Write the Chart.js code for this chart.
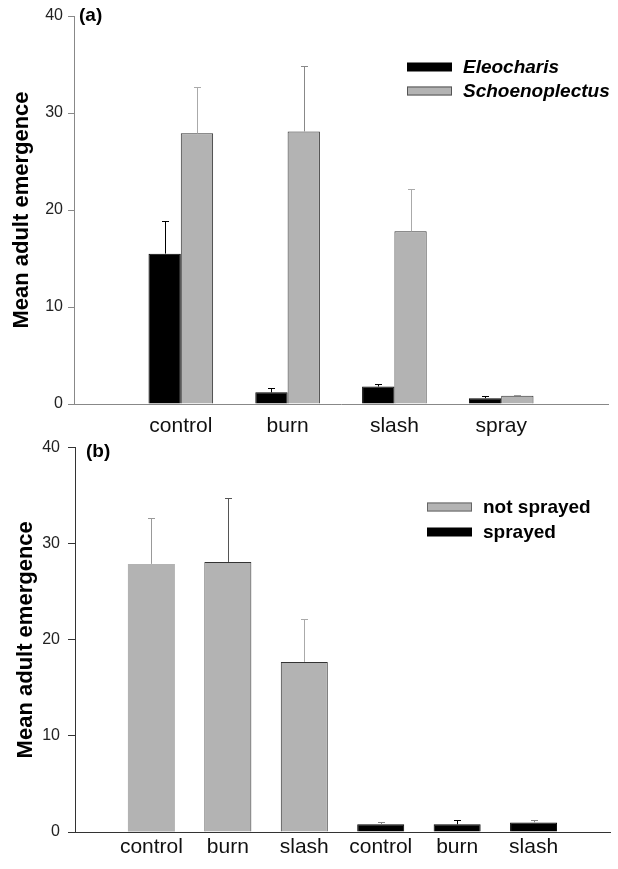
<!DOCTYPE html>
<html>
<head>
<meta charset="utf-8">
<script src="https://cdn.jsdelivr.net/npm/chart.js@4/dist/chart.umd.min.js"></script>
<style>
  body { margin: 0; background: #fff; }
  #wrap { position: relative; width: 618px; height: 869px; }
  canvas { position: absolute; left: 0; }
  #chartA { top: 0; }
  #chartB { top: 430px; }
</style>
</head>
<body>
<div id="wrap">
  <canvas id="chartA" width="618" height="440"></canvas>
  <canvas id="chartB" width="618" height="439"></canvas>
</div>
<script>
// panel (a): emergence by host plant
const treatmentsA = ['control', 'burn', 'slash', 'spray'];
const eleocharisMean = [15.5, 1.2, 1.8, 0.6];
const eleocharisSE = [3.4, 0.4, 0.3, 0.2];
const schoenoMean = [27.9, 28.1, 17.8, 0.85];
const schoenoSE = [4.8, 6.7, 4.4, 0.1];

// panel (b): sprayed vs not sprayed
const treatmentsB = ['control', 'burn', 'slash', 'control', 'burn', 'slash'];
const notSprayedMean = [27.9, 28.1, 17.7, null, null, null];
const notSprayedSE = [4.8, 6.7, 4.5, null, null, null];
const sprayedMean = [null, null, null, 0.8, 0.8, 1.0];
const sprayedSE = [null, null, null, 0.2, 0.4, 0.25];

const yTicks = [0, 10, 20, 30, 40];

Chart.defaults.font.family = "'Liberation Sans', Arial, sans-serif";
Chart.defaults.color = '#111';

// empty slot at each end so the groups sit where they do in the figure
const pad = arr => [null, ...arr, null];
const padLabels = arr => ['', ...arr, ''];

const errorBars = {
    id: 'errorBars',
    afterDatasetsDraw(chart) {
        const ctx = chart.ctx;
        const y = chart.scales.y;
        chart.data.datasets.forEach((ds, di) => {
            if (!ds.errors) return;
            const meta = chart.getDatasetMeta(di);
            meta.data.forEach((bar, i) => {
                const v = ds.data[i];
                const e = ds.errors[i];
                if (v == null || e == null) return;
                const top = Math.round(y.getPixelForValue(v + e)) + 0.5;
                const x = Math.round(bar.x) + 0.5;
                ctx.save();
                ctx.strokeStyle = Array.isArray(ds.errorColor) ? ds.errorColor[i] : ds.errorColor;
                ctx.lineWidth = 1;
                ctx.beginPath();
                ctx.moveTo(x, bar.y);
                ctx.lineTo(x, top);
                ctx.moveTo(x - 3.5, top);
                ctx.lineTo(x + 3.5, top);
                ctx.stroke();
                ctx.restore();
            });
        });
    }
};

const boxLegend = {
    id: 'boxLegend',
    afterDraw(chart, args, opts) {
        const ctx = chart.ctx;
        ctx.save();
        chart.data.datasets.forEach((ds, i) => {
            const cy = opts.y + i * opts.gap;
            const bx = opts.x;
            ctx.fillStyle = ds.legendFill;
            ctx.fillRect(bx, cy - 4.5, 45, 9);
            if (ds.legendBorder) {
                ctx.strokeStyle = ds.legendBorder;
                ctx.lineWidth = 1;
                ctx.strokeRect(bx + 0.5, cy - 4, 44, 8);
            }
            ctx.fillStyle = '#000';
            ctx.font = opts.fontStyle + ' bold 19px ' + Chart.defaults.font.family;
            ctx.textBaseline = 'middle';
            ctx.textAlign = 'left';
            ctx.fillText(ds.label, bx + 56, cy + 1);
        });
        ctx.restore();
    }
};

const panelLabel = {
    id: 'panelLabel',
    afterDraw(chart, args, opts) {
        const ctx = chart.ctx;
        ctx.save();
        ctx.fillStyle = '#000';
        ctx.font = 'bold 19px ' + Chart.defaults.font.family;
        ctx.textBaseline = 'middle';
        ctx.fillText(opts.text, opts.x, opts.y);
        ctx.restore();
    }
};

function yAxis(width, axisColor, tickLen, tickPad, titlePad) {
    return {
        min: 0,
        max: 40,
        afterBuildTicks: s => { s.ticks = yTicks.map(v => ({ value: v })); },
        ticks: { color: '#222', font: { size: 16 }, padding: tickPad },
        grid: { drawOnChartArea: false, drawTicks: true, tickLength: tickLen, color: axisColor },
        border: { color: axisColor, width: 1 },
        title: {
            display: true,
            text: 'Mean adult emergence',
            color: '#000',
            font: { size: 22, weight: 'bold' },
            padding: { top: titlePad, bottom: 0 }
        },
        afterFit: s => { s.width = width; }
    };
}

function xAxis(height, axisColor, labelPad) {
    return {
        offset: false,
        grid: { display: false, drawTicks: false },
        border: { color: axisColor, width: 1 },
        ticks: { color: '#111', font: { size: 21 }, padding: labelPad, autoSkip: false, maxRotation: 0 },
        afterFit: s => { s.height = height; }
    };
}

new Chart(document.getElementById('chartA'), {
    type: 'bar',
    data: {
        labels: padLabels(treatmentsA),
        datasets: [{
            label: 'Eleocharis',
            data: pad(eleocharisMean),
            errors: pad(eleocharisSE),
            errorColor: '#000',
            backgroundColor: '#000',
            borderColor: '#000',
            borderWidth: 1,
            legendFill: '#000'
        }, {
            label: 'Schoenoplectus',
            data: pad(schoenoMean),
            errors: pad(schoenoSE),
            errorColor: ['', '#aaa', '#888', '#aaa', '#999', ''],
            backgroundColor: '#b3b3b3',
            borderColor: '#333',
            borderWidth: 1,
            legendFill: '#b3b3b3',
            legendBorder: '#555'
        }]
    },
    options: {
        responsive: false,
        animation: false,
        categoryPercentage: 0.605,
        barPercentage: 1,
        layout: { padding: { top: 16, right: 7, left: 0, bottom: 0 } },
        scales: {
            x: xAxis(36, '#888', 10),
            y: yAxis(74, '#888', 6, 5, 9)
        },
        plugins: {
            legend: { display: false },
            tooltip: { enabled: false },
            boxLegend: { x: 407, y: 67, gap: 24, fontStyle: 'italic' },
            panelLabel: { text: '(a)', x: 79, y: 16 }
        }
    },
    plugins: [errorBars, boxLegend, panelLabel]
});

new Chart(document.getElementById('chartB'), {
    type: 'bar',
    data: {
        labels: padLabels(treatmentsB),
        datasets: [{
            label: 'not sprayed',
            data: pad(notSprayedMean),
            errors: pad(notSprayedSE),
            errorColor: ['', '#999', '#555', '#aaa', '', '', '', ''],
            backgroundColor: '#b3b3b3',
            borderColor: '#333',
            borderWidth: [0, 0, 1, 1, 0, 0, 0, 0],
            grouped: false,
            legendFill: '#b3b3b3',
            legendBorder: '#666'
        }, {
            label: 'sprayed',
            data: pad(sprayedMean),
            errors: pad(sprayedSE),
            errorColor: ['', '', '', '', '#888', '#000', '#888', ''],
            backgroundColor: '#000',
            borderColor: '#000',
            borderWidth: 1,
            grouped: false,
            legendFill: '#000'
        }]
    },
    options: {
        responsive: false,
        animation: false,
        categoryPercentage: 0.615,
        barPercentage: 1,
        layout: { padding: { top: 13, right: 8, left: 0, bottom: 0 } },
        scales: {
            x: xAxis(37, '#333', 3),
            y: yAxis(75, '#333', 7, 8, 13)
        },
        plugins: {
            legend: { display: false },
            tooltip: { enabled: false },
            boxLegend: { x: 427, y: 77, gap: 25, fontStyle: 'normal' },
            panelLabel: { text: '(b)', x: 86, y: 22 }
        }
    },
    plugins: [errorBars, boxLegend, panelLabel]
});
</script>
</body>
</html>
